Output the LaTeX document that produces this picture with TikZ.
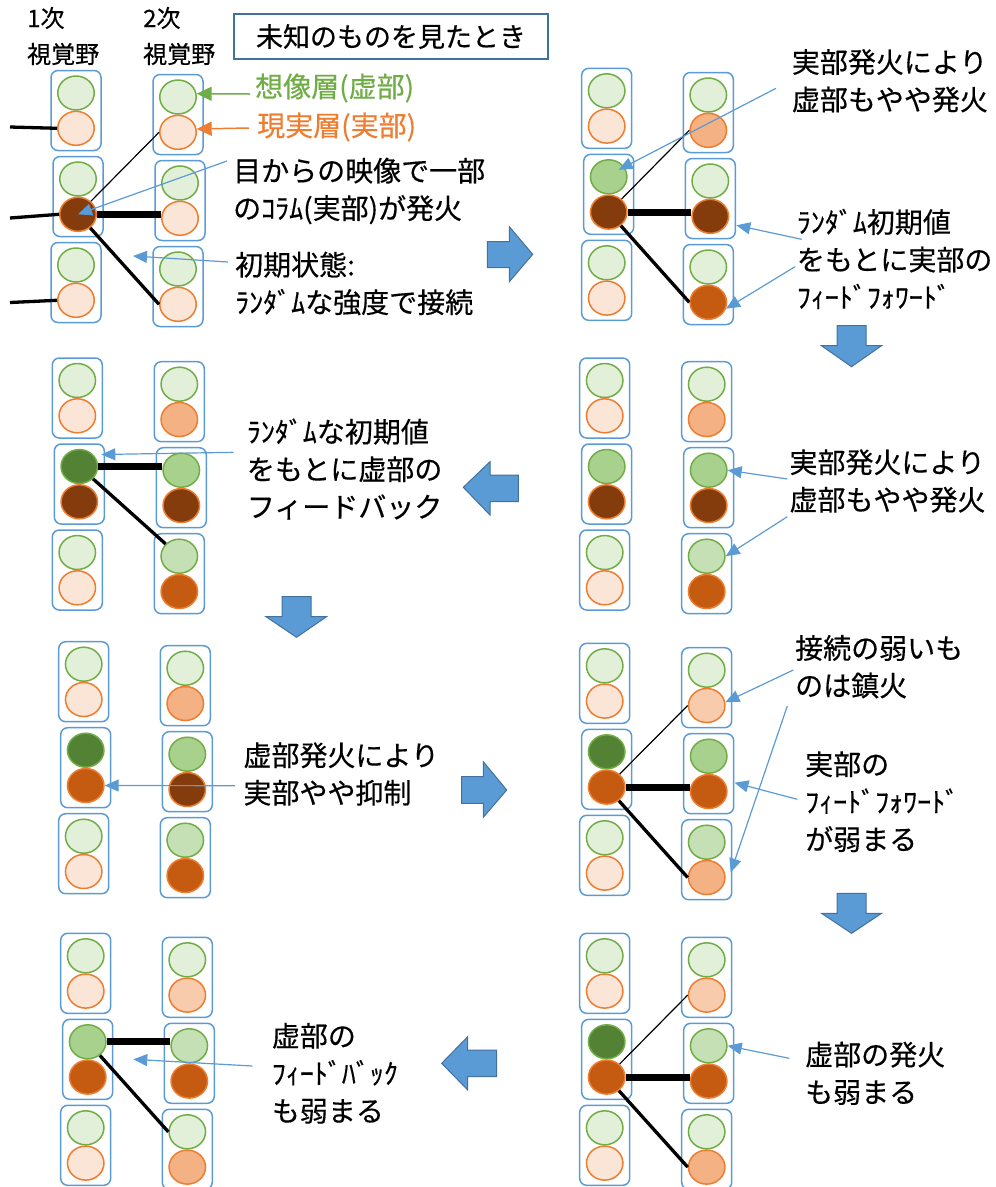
\documentclass[tikz,border=0pt]{standalone}
\usepackage{fontspec}
\setmainfont{Noto Sans CJK JP}[FakeBold=0.4]
\usetikzlibrary{shapes.geometric,arrows.meta,calc}
\definecolor{boxblue}{HTML}{5B9BD5}
\definecolor{darkblue}{HTML}{41719C}
\definecolor{gline}{HTML}{70AD47}
\definecolor{oline}{HTML}{ED7D31}
\definecolor{GA}{HTML}{E2F0D9}
\definecolor{GB}{HTML}{C5E0B4}
\definecolor{GC}{HTML}{A9D18E}
\definecolor{GD}{HTML}{548235}
\definecolor{OA}{HTML}{FBE5D6}
\definecolor{OB}{HTML}{F8CBAD}
\definecolor{OC}{HTML}{F4B183}
\definecolor{OD}{HTML}{C55A11}
\definecolor{OE}{HTML}{843C0C}
\tikzset{
  cbox/.style={draw=boxblue, line width=1.5pt, rounded corners=7pt, minimum width=50pt, minimum height=80pt, inner sep=0pt},
  gc/.style={ellipse, draw=gline, line width=1.5pt, minimum width=36.5pt, minimum height=34pt, inner sep=0pt},
  oc/.style={ellipse, draw=oline, line width=1.5pt, minimum width=36.5pt, minimum height=34pt, inner sep=0pt},
  thinw/.style={draw=black, line width=1.2pt},
  medw/.style={draw=black, line width=3.3pt},
  thickw/.style={draw=black, line width=7pt},
  callout/.style={draw=boxblue, line width=1.2pt, -{Triangle[length=14pt,width=12pt]}},
  blockarrow/.style={fill=boxblue, draw=darkblue, line width=1pt},
  lbl/.style={anchor=west, inner sep=0pt, align=left, font=\fontsize{28}{37.5}\selectfont},
}
% #1 prefix, #2 x, #3 y, #4..#9 fills (green/orange for top, middle, bottom)
\newcommand\colunits[9]{%
  \node[cbox] (#1a) at (#2,#3) {};
  \node[gc,fill=#4] (#1a-g) at (#2,#3-17.5) {};
  \node[oc,fill=#5] (#1a-o) at (#2,#3+17.8) {};
  \node[cbox] (#1b) at (#2+2,#3+86) {};
  \node[gc,fill=#6] (#1b-g) at (#2+2,#3+86-17.5) {};
  \node[oc,fill=#7] (#1b-o) at (#2+2,#3+86+17.8) {};
  \node[cbox] (#1c) at (#2,#3+172) {};
  \node[gc,fill=#8] (#1c-g) at (#2,#3+172-17.5) {};
  \node[oc,fill=#9] (#1c-o) at (#2,#3+172+17.8) {};
}
\begin{document}
\begin{tikzpicture}[x=1pt,y=-1pt]
\useasboundingbox (0,0) rectangle (996,1187);

% ---------- columns ----------
\colunits{p1L}{76}{110.5}{GA}{OA}{GA}{OE}{GA}{OA}
\colunits{p1R}{178}{114.5}{GA}{OA}{GA}{OA}{GA}{OA}
\colunits{p2L}{606.7}{108.3}{GA}{OA}{GC}{OE}{GA}{OA}
\colunits{p2R}{708.3}{112.5}{GA}{OC}{GA}{OE}{GA}{OD}
\colunits{p3L}{77.3}{398}{GA}{OA}{GD}{OE}{GA}{OA}
\colunits{p3R}{179.3}{401.7}{GA}{OC}{GC}{OE}{GB}{OD}
\colunits{p4L}{604.7}{398}{GA}{OA}{GC}{OE}{GA}{OA}
\colunits{p4R}{706.7}{401.7}{GA}{OC}{GC}{OE}{GB}{OD}
\colunits{p5L}{83.7}{681.7}{GA}{OA}{GD}{OD}{GA}{OA}
\colunits{p5R}{185.3}{685.7}{GA}{OC}{GC}{OE}{GB}{OD}
\colunits{p6L}{604.7}{683.3}{GA}{OA}{GD}{OD}{GA}{OA}
\colunits{p6R}{706.7}{687.7}{GA}{OB}{GC}{OD}{GB}{OC}
\colunits{p7L}{85.7}{973.3}{GA}{OA}{GC}{OD}{GA}{OA}
\colunits{p7R}{187.3}{977.3}{GA}{OB}{GB}{OD}{GA}{OC}
\colunits{p8L}{604.7}{973.3}{GA}{OA}{GD}{OD}{GA}{OA}
\colunits{p8R}{706.7}{977.3}{GA}{OB}{GB}{OD}{GA}{OC}

% ---------- black connections ----------
\coordinate (in1) at (10,127);
\coordinate (in2) at (10,218);
\coordinate (in3) at (10,302.5);
\draw[medw] (in1) -- (p1La-o.west);
\draw[medw] (in2) -- (p1Lb-o.west);
\draw[medw] (in3) -- (p1Lc-o.west);
\foreach \p in {p1,p2,p6,p8}{
  \draw[thinw] (\p Lb-o) -- (\p Ra-o.west);
  \draw[thickw] (\p Lb-o.east) -- (\p Rb-o.west |- \p Lb-o.east);
  \draw[medw] (\p Lb-o) -- (\p Rc-o.west);
}
\draw[thickw] (p3Lb-g.east) -- (p3Rb-g.west |- p3Lb-g.east);
\draw[medw] (p3Lb-g) -- (p3Rc-g);
\draw[thickw] (p7Lb-g.east) -- (p7Rb-g.west |- p7Lb-g.east);
\draw[medw] (p7Lb-g) -- (p7Rc-g.west);

% ---------- header texts ----------
\node[anchor=west, inner sep=0pt, align=left, font=\fontsize{24}{36}\selectfont] (v1) at (27,36) {1次\\視覚野};
\node[anchor=west, inner sep=0pt, align=left, font=\fontsize{24}{36}\selectfont] (v2) at (143,36) {2次\\視覚野};
\node[draw=darkblue, line width=1.5pt, minimum width=314pt, minimum height=45pt, inner sep=0pt, font=\fontsize{27}{32}\selectfont] (title) at (391,36.5) {未知のものを見たとき};

% ---------- labels ----------
\node[lbl, text=gline] (lg) at (255,88) {想像層(虚部)};
\node[lbl, text=oline] (lo) at (257,127) {現実層(実部)};
\node[lbl] (t1) at (233,191) {目からの映像で一部\\のｺﾗﾑ(実部)が発火};
\node[lbl] (t2) at (235,283.5) {初期状態:\\ﾗﾝﾀﾞﾑな強度で接続};
\node[lbl] (t3) at (791.7,80.8) {実部発火により\\虚部もやや発火};
\node[lbl] (t4) at (796.7,259) {ﾗﾝﾀﾞﾑ初期値\\をもとに実部の\\ﾌｨｰﾄﾞﾌｫﾜｰﾄﾞ};
\node[lbl] (t5) at (246.7,469) {ﾗﾝﾀﾞﾑな初期値\\をもとに虚部の\\フィードバック};
\node[lbl] (t6) at (789.3,481) {実部発火により\\虚部もやや発火};
\node[lbl] (t7) at (243.3,774) {虚部発火により\\実部やや抑制};
\node[lbl] (t8) at (795,666.7) {接続の弱いも\\のは鎮火};
\node[lbl] (t9) at (805,801.7) {実部の\\ﾌｨｰﾄﾞﾌｫﾜｰﾄﾞ\\が弱まる};
\node[lbl] (t10) at (271.7,1073.3) {虚部の\\ﾌｨｰﾄﾞﾊﾞｯｸ\\も弱まる};
\node[lbl] (t11) at (805,1073.3) {虚部の発火\\も弱まる};

% ---------- legend arrows ----------
\coordinate (lgt) at (250,94);
\coordinate (lot) at (249,128);
\draw[draw=gline, line width=1.5pt, -{Triangle[length=15pt,width=14pt]}] (lgt) -- (p1Ra-g.10);
\draw[draw=oline, line width=1.5pt, -{Triangle[length=15pt,width=14pt]}] (lot) -- (p1Ra-o.10);

% ---------- callouts ----------
\coordinate (c1t) at (227,161);
\coordinate (c2t) at (228,262);
\coordinate (c2h) at (133,256);
\coordinate (c3t) at (776,88.3);
\coordinate (c4t) at (801.7,239.3);
\coordinate (c5t) at (795,266.7);
\coordinate (c6t) at (233.3,452.3);
\coordinate (c7t) at (787.3,479);
\coordinate (c8t) at (787.3,516.7);
\coordinate (c9t) at (235,785.7);
\coordinate (c10t) at (793.3,670);
\coordinate (c11t) at (787.3,706);
\coordinate (c12t) at (797.3,799.3);
\coordinate (c13t) at (252.3,1066);
\coordinate (c13h) at (133.3,1059.3);
\coordinate (c14t) at (789.3,1058.3);
\draw[callout] (c1t) -- (p1Lb-o.center);
\draw[callout] (c2t) -- (c2h);
\draw[callout] (c3t) -- ($(p2Lb-g)+(10,-7)$);
\draw[callout] (c4t) -- ($(p2Rb-o)+(26,9)$);
\draw[callout] (c5t) -- (p2Rc-o.-20);
\draw[callout] (c6t) -- ($(p3Lb-g)+(22,-12)$);
\draw[callout] (c7t) -- (p4Rb-g.east);
\draw[callout] (c8t) -- (p4Rc-g.east);
\draw[callout] (c9t) -- (p5Lb-o.east);
\draw[callout] (c10t) -- (p6Ra-o.10);
\draw[callout] (c11t) -- ($(p6Rc-o.east)+(5,-5)$);
\draw[callout] (c12t) -- ($(p6Rb.east)+(0,9)$);
\draw[callout] (c13t) -- (c13h);
\draw[callout] (c14t) -- (p8Rb-g.east);

% ---------- block arrows ----------
\draw[blockarrow] (487.3,241.7) -- (509.3,241.7) -- (509.3,226.7) -- (532.7,254.3) -- (509.3,281.7) -- (509.3,267.7) -- (487.3,267.7) -- cycle;
\draw[blockarrow] (837,325.7) -- (866,325.7) -- (866,345.7) -- (881.5,345.7) -- (851.5,366.7) -- (821.5,345.7) -- (837,345.7) -- cycle;
\draw[blockarrow] (518.3,475) -- (490,475) -- (490,461.7) -- (463.3,487.3) -- (490,515) -- (490,501.7) -- (518.3,501.7) -- cycle;
\draw[blockarrow] (282,596.7) -- (311,596.7) -- (311,616.7) -- (326.5,616.7) -- (296.5,637.3) -- (266,616.7) -- (282,616.7) -- cycle;
\draw[blockarrow] (461.7,776.7) -- (483.3,776.7) -- (483.3,761.7) -- (506.7,790) -- (483.3,817.3) -- (483.3,803.3) -- (461.7,803.3) -- cycle;
\draw[blockarrow] (837,893.3) -- (866,893.3) -- (866,913.3) -- (881.5,913.3) -- (851.5,933.3) -- (821.5,913.3) -- (837,913.3) -- cycle;
\draw[blockarrow] (496.7,1050) -- (467.7,1050) -- (467.7,1036.7) -- (441.7,1063.3) -- (467.7,1090) -- (467.7,1076.7) -- (496.7,1076.7) -- cycle;
\end{tikzpicture}
\end{document}
